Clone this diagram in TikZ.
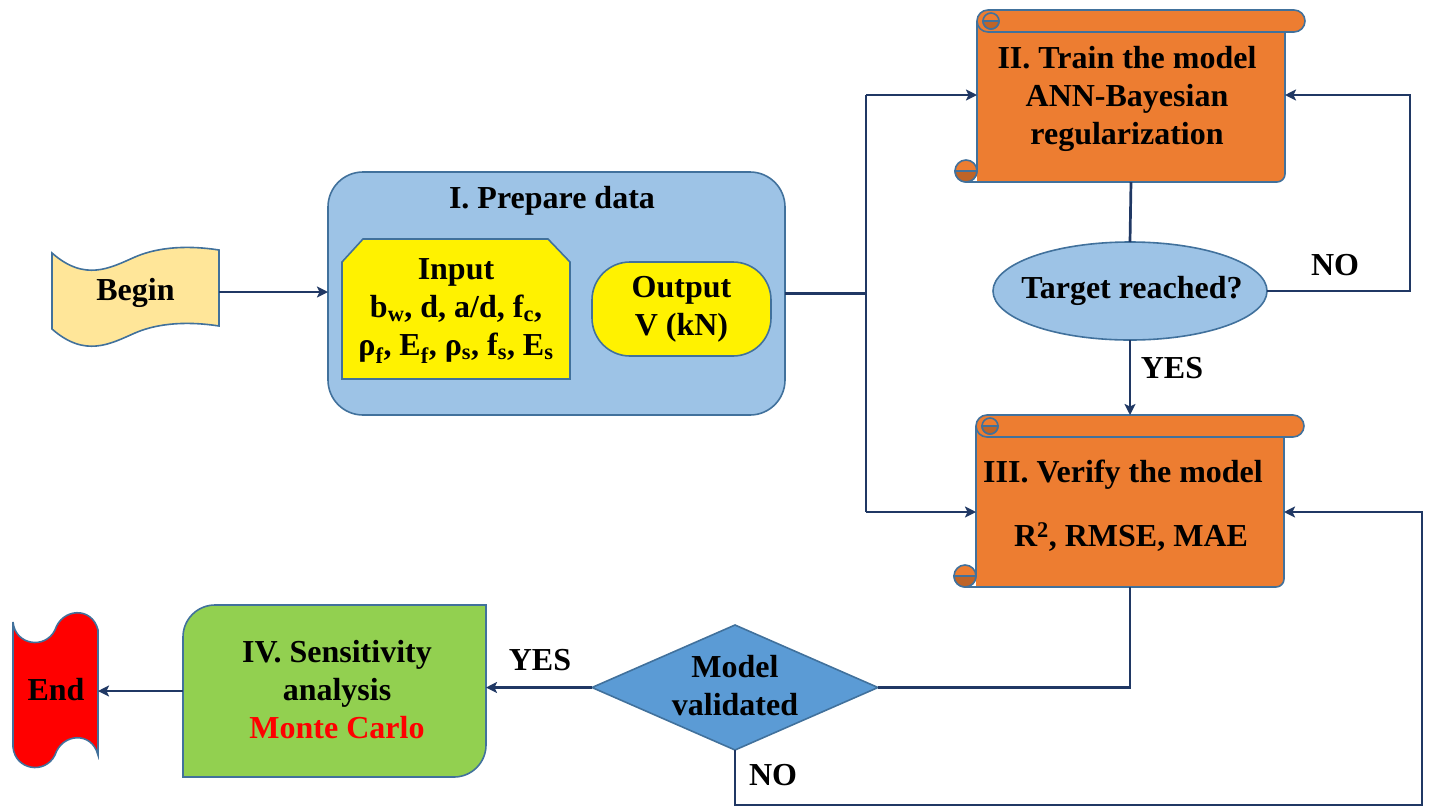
\documentclass[tikz,border=0pt]{standalone}
\usepackage{fontspec}
\setmainfont{Liberation Serif}
\usetikzlibrary{arrows.meta,shapes.geometric}
\definecolor{navy}{HTML}{203864}
\definecolor{edge}{HTML}{41719C}
\definecolor{paleblue}{HTML}{9DC3E6}
\definecolor{midblue}{HTML}{5B9BD5}
\definecolor{leaf}{HTML}{92D050}
\definecolor{orng}{HTML}{ED7D31}
\definecolor{orngdark}{HTML}{BE6428}
\definecolor{sand}{HTML}{FFE699}
\newcommand\lo[1]{\textsubscript{#1}}
% horizontal scroll: #1 left, #2 top, #3 right, #4 bottom (body)
\newcommand\scrollbox[4]{%
  \fill[orng] (#1,#2+11) -- (#1,#4) -- (#3-8,#4) arc[start angle=90,end angle=0,radius=8] -- (#3,#2+11) -- cycle;
  \draw[shapeline] (#1,#2+11) -- (#1,#4-11);
  \draw[shapeline] (#1-11,#4) -- (#3-8,#4) arc[start angle=90,end angle=0,radius=8] -- (#3,#2+11);
  \filldraw[shapeline,fill=orng] (#1-11,#4-11) circle[radius=11];
  \filldraw[shapeline,fill=orngdark] (#1-22,#4-11) arc[start angle=180,end angle=0,radius=11] -- cycle;
  \filldraw[shapeline,fill=orng] (#1+11,#2) -- (#3+9,#2) arc[start angle=-90,end angle=90,radius=11] -- (#1+11,#2+22) arc[start angle=90,end angle=270,radius=11] -- cycle;
  \filldraw[shapeline,fill=orng] (#1+14,#2+11) circle[radius=8];
  \filldraw[shapeline,fill=orngdark] (#1+6,#2+11) arc[start angle=180,end angle=0,radius=8] -- cycle;
}
\begin{document}
\begin{tikzpicture}[x=1pt,y=-1pt,
  shapeline/.style={draw=edge,line width=1.6pt},
  conn/.style={draw=navy,line width=2.7pt},
  flow/.style={conn,-{Stealth[length=11pt,width=11pt,inset=2.5pt]}},
  txt/.style={font=\fontsize{32}{38}\selectfont\bfseries,align=center,inner sep=0pt},
  area/.style={inner sep=0pt,outer sep=0pt}]
\useasboundingbox (0,0) rectangle (1436,807);

% Begin tape
\filldraw[shapeline,fill=sand] (52,253) .. controls (85,282) and (110,268) .. (135,257) .. controls (165,244) and (200,247) .. (219,250) -- (219,326) .. controls (200,323) and (165,320) .. (135,333) .. controls (110,344) and (85,358) .. (52,329) -- cycle;
\node[area,minimum width=167pt,minimum height=76pt] (begin) at (135.5,292) {};
\node[txt] (begintext) at (135.5,293) {Begin};

% I. Prepare data
\node[shapeline,fill=paleblue,rounded corners=35pt,minimum width=457pt,minimum height=243pt,area] (prep) at (556.5,293.5) {};
\node[txt] (preptitle) at (552,201) {I. Prepare data};
\filldraw[shapeline,fill=yellow] (342,262) -- (363,239) -- (548,239) -- (570,262) -- (570,379) -- (342,379) -- cycle;
\node[txt] (input) at (456,311) {Input\\ b\lo{w}, d, a/d, f\lo{c},\\ ρ\lo{f}, E\lo{f}, ρ\lo{s}, f\lo{s}, E\lo{s}};
\node[shapeline,fill=yellow,rounded corners=38pt,minimum width=179pt,minimum height=94pt,txt] (output) at (681.5,309) {Output\\V (kN)};

% II. Train
\scrollbox{977}{10}{1285}{182}
\node[area,minimum width=308pt,minimum height=172pt] (train) at (1131,96) {};
\node[txt] (traintext) at (1127,99) {II. Train the model\\ANN-Bayesian\\regularization};

% decision: target
\node[area,ellipse,shapeline,fill=paleblue,minimum width=274pt,minimum height=98pt] (target) at (1130,291) {};
\node[txt] (targettext) at (1132,291) {Target reached?};

% III. Verify
\scrollbox{976}{415}{1284}{587}
\node[area,minimum width=308pt,minimum height=172pt] (verify) at (1130,501) {};
\node[txt] (verifytext1) at (1123,475) {III. Verify the model};
\node[txt] (verifytext2) at (1131,537) {R\textsuperscript{2}, RMSE, MAE};

% decision: validated
\node[area,minimum width=286pt,minimum height=125pt] (valid) at (735,687.5) {};
\filldraw[shapeline,fill=midblue] (valid.north) -- (valid.east) -- (valid.south) -- (valid.west) -- cycle;
\node[txt] (validtext) at (735,686) {Model\\validated};

% IV. Sensitivity
\filldraw[shapeline,fill=leaf] (183,637) arc[start angle=180,end angle=270,radius=32] -- (486,605) -- (486,745) arc[start angle=0,end angle=90,radius=32] -- (183,777) -- cycle;
\node[area,minimum width=303pt,minimum height=172pt] (sens) at (334.5,691) {};
\node[txt] (senstext) at (337,690) {IV. Sensitivity\\analysis\\\textcolor{red}{Monte Carlo}};

% End tape
\filldraw[shapeline,fill=red] (13,622) .. controls (15,645) and (45,650) .. (55,630) .. controls (62,608) and (92,606) .. (98,630) -- (98,755) .. controls (92,731) and (62,733) .. (55,755) .. controls (45,775) and (15,770) .. (13,747) -- cycle;
\node[area,minimum width=85pt,minimum height=135pt] (endn) at (55.5,690) {};
\node[txt] (endtext) at (56,690) {End};

% connectors
\coordinate (jn) at (866,293.5);
\coordinate (jt) at (866,95);
\coordinate (jb) at (866,512);
\coordinate (nt) at (1410,95);
\coordinate (nb) at (1422,805);
\coordinate (nv) at (1422,512);
\draw[flow] (begin.east) -- (begin.east -| prep.west);
\draw[conn] (prep.east) -- (jn);
\draw[conn] (jt) -- (jb);
\draw[flow] (jt) -- (jt -| train.west);
\draw[flow] (jb) -- (jb -| verify.west);
\draw[conn] (train.south) -- (target.north);
\draw[flow] (target.east) -| (nt) -- (nt -| train.east);
\draw[flow] (target.south) -- (verify.north);
\draw[conn] (verify.south) |- (valid.east);
\draw[flow] (valid.west) -- (valid.west -| sens.east);
\draw[flow] (sens.west) -- (sens.west -| endn.east);
\draw[flow] (valid.south) |- (nb) -- (nv) -- (nv -| verify.east);

% branch labels
\node[txt] (no1) at (1335,265) {NO};
\node[txt] (yes1) at (1172,368) {YES};
\node[txt] (yes2) at (540,660) {YES};
\node[txt] (no2) at (773,775) {NO};
\end{tikzpicture}
\end{document}
